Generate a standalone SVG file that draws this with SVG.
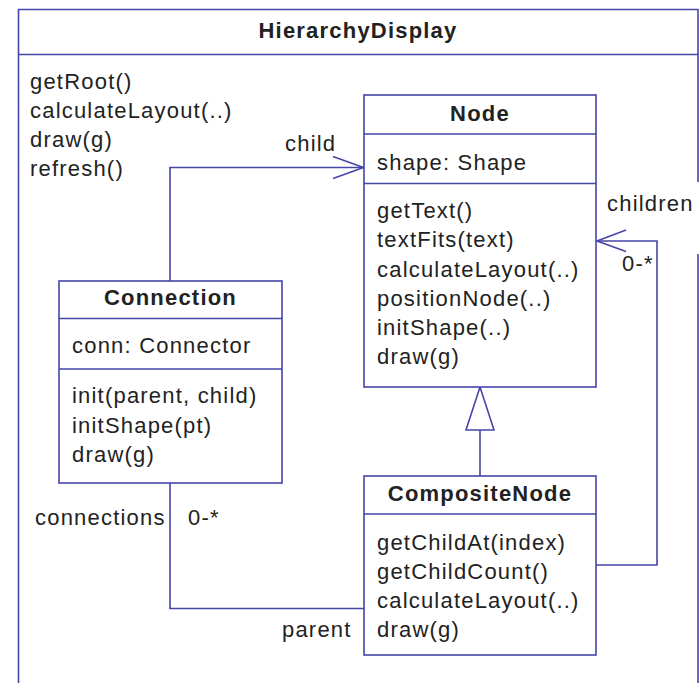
<svg xmlns="http://www.w3.org/2000/svg" width="699" height="683" viewBox="0 0 699 683">
<style>
  .ln { fill: none; stroke: #4545aa; stroke-width: 1.6; }
  .box { fill: #ffffff; stroke: #4545aa; stroke-width: 1.6; }
  text { font-family: "Liberation Sans", Arial, sans-serif; font-size: 22px; fill: #222222; letter-spacing: 1.2px; }
  .t { font-weight: bold; text-anchor: middle; }
</style>
<rect width="699" height="683" fill="#ffffff"/>
<g id="HierarchyDisplay">
  <path class="ln" d="M18.5,683 V9.5 H698 V182 M698,254 V683 M18.5,54.5 H698"/>
  <text class="t" x="358" y="37.5">HierarchyDisplay</text>
  <text x="30" y="89">getRoot()</text>
  <text x="30" y="118">calculateLayout(..)</text>
  <text x="30" y="147">draw(g)</text>
  <text x="30" y="176">refresh()</text>
</g>
<g id="connectors">
  <path class="ln" d="M170,281 V167.5 H363"/>
  <path class="ln" d="M333,156.5 L363.5,167.5 L333,178.5"/>
  <path class="ln" d="M596,565 H657 V241 H597"/>
  <path class="ln" d="M626,230 L597,241 L626,251.5"/>
  <path class="ln" d="M170,483 V608.5 H364"/>
  <path class="ln" d="M480,476 V430"/>
  <path class="box" d="M480,387 L466,430 L494,430 Z"/>
  <text x="285" y="151">child</text>
  <text x="607" y="211">children</text>
  <text x="622" y="271">0-*</text>
  <text x="35" y="525">connections</text>
  <text x="188" y="525">0-*</text>
  <text x="282" y="637">parent</text>
</g>
<g id="Node">
  <rect class="box" x="364" y="95" width="232" height="292"/>
  <path class="ln" d="M364,134 H596 M364,183.5 H596"/>
  <text class="t" x="480" y="121">Node</text>
  <text x="377" y="170">shape: Shape</text>
  <text x="377" y="218">getText()</text>
  <text x="377" y="247">textFits(text)</text>
  <text x="377" y="276.5">calculateLayout(..)</text>
  <text x="377" y="306">positionNode(..)</text>
  <text x="377" y="335">initShape(..)</text>
  <text x="377" y="364">draw(g)</text>
</g>
<g id="Connection">
  <rect class="box" x="59" y="281" width="223" height="202"/>
  <path class="ln" d="M59,318.5 H282 M59,369 H282"/>
  <text class="t" x="170.5" y="305">Connection</text>
  <text x="72" y="352.5">conn: Connector</text>
  <text x="72" y="403">init(parent, child)</text>
  <text x="72" y="432.5">initShape(pt)</text>
  <text x="72" y="462">draw(g)</text>
</g>
<g id="CompositeNode">
  <rect class="box" x="364" y="476" width="232" height="179"/>
  <path class="ln" d="M364,514 H596"/>
  <text class="t" x="480" y="501">CompositeNode</text>
  <text x="377" y="550">getChildAt(index)</text>
  <text x="377" y="579">getChildCount()</text>
  <text x="377" y="608">calculateLayout(..)</text>
  <text x="377" y="637">draw(g)</text>
</g>
</svg>
